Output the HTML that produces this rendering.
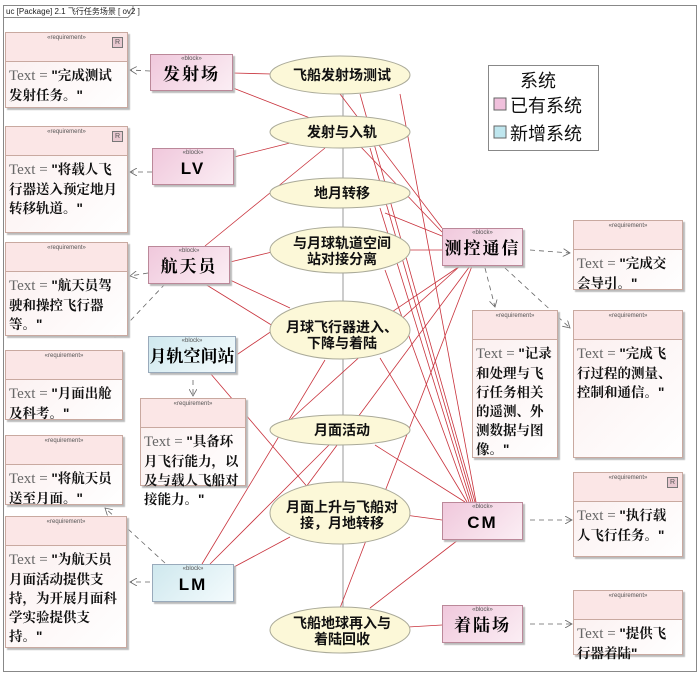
<!DOCTYPE html>
<html><head><meta charset="utf-8"><style>
body{margin:0;width:700px;height:675px;background:#fff;position:relative;overflow:hidden;font-family:"Liberation Sans","Noto Sans CJK SC",sans-serif}
.r{position:absolute;border:1px solid #c9a9a0;background:linear-gradient(135deg,#fbeeee,#fff);box-shadow:2px 2px 1px #bbb;box-sizing:border-box}
.r .h{height:26px;border-bottom:1px solid #c9a9a0;font-size:6px;text-align:center;color:#555;padding-top:2px;background:#fbe6e6;position:relative}
.r .h i{position:absolute;right:4px;top:4px;width:9px;height:9px;border:1px solid #777;font-size:7px;line-height:9px;font-style:normal;background:#e8c8d0}
.r .t{font-size:13.5px;line-height:19px;padding:4px 3px;font-weight:bold;color:#111;font-family:"Liberation Sans","Noto Serif CJK SC",serif}
.r .t span{font-family:"Liberation Serif",serif;font-weight:normal;color:#666;font-size:15px}
.b{position:absolute;border:1px solid #b89;background:linear-gradient(135deg,#f0c8dc,#fbeef4);box-shadow:2px 2px 1px #bbb;box-sizing:border-box;text-align:center}
.b.c{background:linear-gradient(135deg,#cfe8ee,#f4fbfd);border-color:#9ab}
.b .s{font-size:6px;color:#555;line-height:9px}
.b .n{font-size:17px;font-weight:bold;line-height:22px;font-family:"Liberation Sans","Noto Serif CJK SC",serif;letter-spacing:2px}
</style></head><body>
<svg width="700" height="675" style="position:absolute;left:0;top:0">
<defs><marker id="a" markerWidth="8" markerHeight="8" refX="7" refY="4" orient="auto" markerUnits="userSpaceOnUse"><path d="M0 0 L7 4 L0 8" fill="none" stroke="#666" stroke-width="0.8"/></marker></defs>
<rect x="3.5" y="5.5" width="693" height="666" fill="none" stroke="#888"/>
<path d="M3.5 17.5 H128 L133 12 V5.5" fill="none" stroke="#888"/>
<text x="6" y="14" font-size="8" fill="#222" font-family="Liberation Sans,Noto Sans CJK SC,sans-serif">uc [Package] 2.1 飞行任务场景 [ ov2 ]</text>
<line x1="343" y1="93" x2="343" y2="610" stroke="#999"/>
<g stroke="#c8323c" stroke-width="0.8" fill="none">
<line x1="233" y1="73" x2="272" y2="74"/><line x1="233" y1="88" x2="310" y2="118"/>
<line x1="234" y1="157" x2="290" y2="143"/>
<line x1="230" y1="262" x2="272" y2="252"/><line x1="205" y1="246" x2="325" y2="148"/>
<line x1="205" y1="284" x2="320" y2="355"/><line x1="230" y1="280" x2="290" y2="308"/>
<line x1="210" y1="373" x2="310" y2="490"/><line x1="210" y1="373" x2="310" y2="305"/>
<line x1="202" y1="564" x2="325" y2="360"/><line x1="210" y1="564" x2="330" y2="444"/>
<line x1="234" y1="567" x2="290" y2="537"/>
<line x1="408" y1="250" x2="442" y2="250"/>
<line x1="442" y1="236" x2="385" y2="213"/><line x1="442" y1="232" x2="360" y2="146"/>
<line x1="460" y1="266" x2="380" y2="320"/><line x1="460" y1="266" x2="290" y2="420"/>
<line x1="470" y1="266" x2="300" y2="495"/><line x1="472" y1="266" x2="340" y2="608"/>
<line x1="442" y1="228" x2="340" y2="94"/>
<line x1="475" y1="502" x2="360" y2="94"/><line x1="473" y1="502" x2="370" y2="148"/>
<line x1="471" y1="502" x2="380" y2="208"/><line x1="469" y1="502" x2="385" y2="270"/>
<line x1="467" y1="502" x2="380" y2="358"/><line x1="465" y1="502" x2="375" y2="445"/>
<line x1="442" y1="520" x2="405" y2="515"/><line x1="458" y1="540" x2="370" y2="608"/>
<line x1="442" y1="625" x2="408" y2="627"/>
<line x1="400" y1="94" x2="476" y2="502"/>
</g>
<g stroke="#666" stroke-width="0.8" stroke-dasharray="5,4" fill="none" marker-end="url(#a)">
<line x1="150" y1="71" x2="130" y2="70"/><line x1="152" y1="172" x2="130" y2="172"/>
<line x1="148" y1="273" x2="130" y2="276"/><line x1="165" y1="284" x2="115" y2="337"/>
<line x1="193" y1="380" x2="193" y2="396"/><line x1="165" y1="563" x2="105" y2="508"/>
<line x1="150" y1="582" x2="130" y2="582"/>
<line x1="530" y1="250" x2="570" y2="253"/><line x1="485" y1="268" x2="495" y2="307"/>
<line x1="505" y1="268" x2="570" y2="328"/><line x1="530" y1="520" x2="572" y2="520"/>
<line x1="530" y1="624" x2="572" y2="624"/>
</g>
<g fill="#fcf8d8" stroke="#aa9" stroke-width="1">
<ellipse cx="340" cy="75" rx="70" ry="19"/><ellipse cx="340" cy="132" rx="70" ry="16"/>
<ellipse cx="340" cy="193" rx="70" ry="15"/><ellipse cx="340" cy="250" rx="70" ry="23"/>
<ellipse cx="340" cy="330" rx="70" ry="29"/><ellipse cx="340" cy="430" rx="70" ry="15"/>
<ellipse cx="340" cy="513" rx="70" ry="31"/><ellipse cx="340" cy="630" rx="70" ry="23"/>
</g>
<g font-size="14" font-weight="bold" text-anchor="middle" fill="#111" font-family="Liberation Sans,Noto Sans CJK SC,sans-serif">
<text x="342" y="80">飞船发射场测试</text><text x="342" y="137">发射与入轨</text>
<text x="342" y="198">地月转移</text><text x="342" y="248">与月球轨道空间</text><text x="342" y="264">站对接分离</text>
<text x="342" y="332">月球飞行器进入、</text><text x="342" y="348">下降与着陆</text>
<text x="342" y="435">月面活动</text><text x="342" y="512">月面上升与飞船对</text><text x="342" y="528">接，月地转移</text>
<text x="342" y="628">飞船地球再入与</text><text x="342" y="644">着陆回收</text>
</g>
<rect x="488.5" y="65.5" width="110" height="85" fill="#fff" stroke="#888"/>
<g font-size="18" fill="#111" font-family="Liberation Sans,Noto Sans CJK SC,sans-serif">
<text x="520" y="87">系统</text><text x="510" y="112">已有系统</text><text x="510" y="140">新增系统</text></g>
<rect x="494" y="98" width="12" height="12" fill="#f0c0dc" stroke="#666"/>
<rect x="494" y="126" width="12" height="12" fill="#bfe6ee" stroke="#666"/>
</svg>

<div class="r" style="left:5px;top:32px;width:123px;height:76px"><div class="h">«requirement»<i>R</i></div><div class="t"><span>Text = </span>"完成测试发射任务。"</div></div>
<div class="r" style="left:5px;top:126px;width:123px;height:107px"><div class="h">«requirement»<i>R</i></div><div class="t"><span>Text = </span>"将载人飞行器送入预定地月转移轨道。"</div></div>
<div class="r" style="left:5px;top:242px;width:123px;height:94px"><div class="h">«requirement»</div><div class="t"><span>Text = </span>"航天员驾驶和操控飞行器等。"</div></div>
<div class="r" style="left:5px;top:350px;width:118px;height:70px"><div class="h">«requirement»</div><div class="t"><span>Text = </span>"月面出舱及科考。"</div></div>
<div class="r" style="left:5px;top:435px;width:118px;height:70px"><div class="h">«requirement»</div><div class="t"><span>Text = </span>"将航天员送至月面。"</div></div>
<div class="r" style="left:5px;top:516px;width:122px;height:132px"><div class="h">«requirement»</div><div class="t"><span>Text = </span>"为航天员月面活动提供支持，为开展月面科学实验提供支持。"</div></div>
<div class="r" style="left:140px;top:398px;width:106px;height:88px"><div class="h">«requirement»</div><div class="t"><span>Text = </span>"具备环月飞行能力，以及与载人飞船对接能力。"</div></div>
<div class="r" style="left:573px;top:220px;width:110px;height:70px"><div class="h">«requirement»</div><div class="t"><span>Text = </span>"完成交会导引。"</div></div>
<div class="r" style="left:472px;top:310px;width:86px;height:148px"><div class="h">«requirement»</div><div class="t"><span>Text = </span>"记录和处理与飞行任务相关的遥测、外测数据与图像。"</div></div>
<div class="r" style="left:573px;top:310px;width:110px;height:148px"><div class="h">«requirement»</div><div class="t"><span>Text = </span>"完成飞行过程的测量、控制和通信。"</div></div>
<div class="r" style="left:573px;top:472px;width:110px;height:85px"><div class="h">«requirement»<i>R</i></div><div class="t"><span>Text = </span>"执行载人飞行任务。"</div></div>
<div class="r" style="left:573px;top:590px;width:110px;height:65px"><div class="h">«requirement»</div><div class="t"><span>Text = </span>"提供飞行器着陆"</div></div>

<div class="b" style="left:150px;top:54px;width:83px;height:37px"><div class="s">«block»</div><div class="n">发射场</div></div>
<div class="b" style="left:152px;top:148px;width:82px;height:37px"><div class="s">«block»</div><div class="n">LV</div></div>
<div class="b" style="left:148px;top:246px;width:82px;height:38px"><div class="s">«block»</div><div class="n">航天员</div></div>
<div class="b c" style="left:148px;top:336px;width:88px;height:37px"><div class="s">«block»</div><div class="n" style="letter-spacing:0">月轨空间站</div></div>
<div class="b c" style="left:152px;top:564px;width:82px;height:38px"><div class="s">«block»</div><div class="n">LM</div></div>
<div class="b" style="left:442px;top:228px;width:81px;height:38px"><div class="s">«block»</div><div class="n">测控通信</div></div>
<div class="b" style="left:442px;top:502px;width:81px;height:38px"><div class="s">«block»</div><div class="n">CM</div></div>
<div class="b" style="left:442px;top:605px;width:81px;height:38px"><div class="s">«block»</div><div class="n">着陆场</div></div>
</body></html>
